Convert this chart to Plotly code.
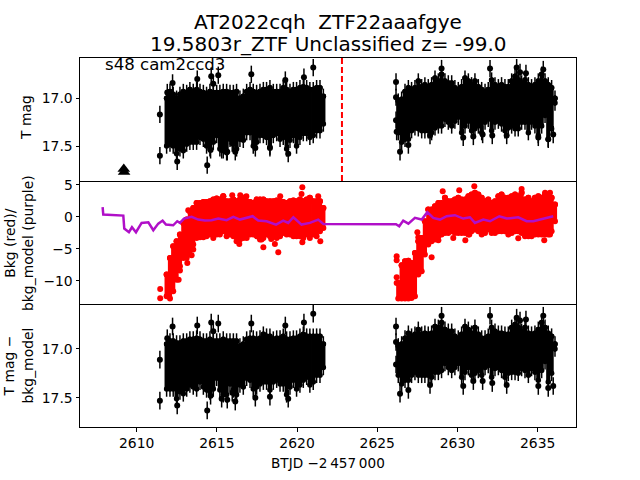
import numpy as np
import plotly.graph_objects as go
from plotly.subplots import make_subplots

FONT = "DejaVu Sans"

# Observation columns: epochs sampled along the two data segments (BTJD)
x_left = [2611.87,2612.08,2612.28,2612.49,2612.70,2612.91,2613.12,2613.32,2613.53,2613.74,2613.95,2614.16,
          2614.36,2614.57,2614.78,2614.99,2615.19,2615.40,2615.61,2615.82,2616.03,2616.23,2616.44,2616.65,
          2616.86,2617.07,2617.27,2617.48,2617.69,2617.90,2618.10,2618.31,2618.52,2618.73,2618.94,2619.14,
          2619.35,2619.56,2619.77,2619.97,2620.18,2620.39,2620.60,2620.80,2621.01,2621.22,2621.43,2621.64]
x_right = [2626.31,2626.52,2626.73,2626.94,2627.14,2627.35,2627.56,2627.77,2627.97,2628.18,2628.39,2628.60,
           2628.81,2629.01,2629.22,2629.43,2629.64,2629.84,2630.05,2630.26,2630.47,2630.68,2630.88,2631.09,
           2631.30,2631.51,2631.72,2631.92,2632.13,2632.34,2632.55,2632.75,2632.96,2633.17,2633.38,2633.59,
           2633.79,2634.00,2634.21,2634.42,2634.62,2634.83,2635.04,2635.25,2635.46,2635.66,2635.87,2636.08]

# Top panel: T mag, bright and faint edge of the points at each epoch
mag_hi_left = [17.00,16.93,16.96,17.00,16.96,16.93,16.94,16.91,16.93,16.91,16.93,16.94,16.96,16.93,16.94,16.94,
               16.94,16.93,16.93,16.94,16.94,16.93,17.00,16.98,16.93,16.91,16.93,16.94,16.93,16.91,16.91,16.89,
               16.93,16.93,16.93,16.89,16.91,16.93,16.91,16.91,16.89,16.88,16.89,16.91,16.91,16.89,16.89,16.98]
mag_lo_left = [17.50,17.48,17.50,17.58,17.53,17.55,17.48,17.46,17.46,17.46,17.41,17.43,17.50,17.53,17.46,17.39,
               17.53,17.55,17.57,17.43,17.48,17.53,17.43,17.44,17.36,17.36,17.50,17.46,17.39,17.39,17.41,17.51,
               17.39,17.37,17.43,17.41,17.53,17.44,17.39,17.50,17.41,17.37,17.37,17.41,17.39,17.34,17.34,17.27]
mag_hi_right = [17.03,17.01,16.93,16.89,16.91,16.89,16.82,16.88,16.86,16.88,16.86,16.79,16.82,16.75,16.82,16.84,
                16.84,16.89,16.91,16.88,16.79,16.82,16.86,16.82,16.88,16.91,16.93,16.91,16.81,16.86,16.88,16.86,
                16.88,16.88,16.82,16.77,16.81,16.84,16.81,16.86,16.88,16.86,16.82,16.75,16.82,16.86,16.89,17.00]
mag_lo_right = [17.36,17.46,17.43,17.43,17.34,17.31,17.32,17.34,17.34,17.34,17.36,17.31,17.29,17.29,17.22,17.25,
                17.29,17.24,17.20,17.36,17.29,17.24,17.34,17.32,17.29,17.36,17.25,17.22,17.34,17.25,17.24,17.27,
                17.34,17.31,17.29,17.32,17.32,17.25,17.25,17.36,17.25,17.29,17.39,17.29,17.18,17.43,17.32,17.05]

# Top panel: isolated points
out_x_left = [2611.45,2611.45,2612.24,2611.91,2612.53,2613.78,2614.40,2614.65,2615.09,2614.78,2617.15,2621.01,
              2619.27,2620.43,2614.61,2619.45,2617.40,2618.31,2616.15,2615.65,2615.30,2615.96]
out_mag_left = [17.17,17.60,16.84,16.94,17.66,16.80,17.70,16.77,16.76,16.85,16.75,16.68,
                16.81,16.78,17.54,17.58,17.52,17.52,17.56,17.56,17.54,17.47]
out_x_right = [2626.17,2626.17,2626.17,2626.42,2626.94,2626.21,2629.01,2632.03,2633.69,2635.35,2633.90,2634.27,
               2630.36,2632.17,2631.57,2635.97,2635.66,2635.04,2633.07,2630.99,2628.29]
out_mag_right = [16.83,16.99,17.23,17.56,17.49,17.35,16.69,16.69,16.68,16.70,16.73,16.74,
                 17.41,17.39,17.38,17.38,17.43,17.41,17.39,17.40,17.39]
limit_x = [2609.20, 2609.22]
limit_mag = [17.74, 17.77]

vline_x = [2622.80, 2622.80]
vline_mag = [16.58, 17.865]

# Middle panel: background, upper and lower edge of the points at each epoch
bkg_hi_left = [-9.01,-6.41,-4.59,-3.81,-2.76,-0.94,-0.42,0.88,1.40,2.18,2.18,2.34,2.34,2.44,2.70,2.86,
               2.70,3.23,2.44,2.44,2.70,2.44,2.70,2.97,2.44,2.34,2.18,2.70,2.70,2.70,2.44,2.44,
               2.44,2.55,2.44,2.34,2.18,2.44,2.55,2.44,2.70,2.44,2.70,2.97,2.44,2.44,2.44,1.40]
bkg_lo_left = [-12.40,-12.76,-11.60,-9.80,-7.71,-6.41,-6.41,-5.89,-4.33,-3.29,-3.18,-3.18,-3.02,-2.76,-3.29,-2.76,
               -2.76,-2.24,-3.02,-2.76,-3.02,-3.81,-3.55,-3.29,-3.29,-2.76,-2.76,-3.02,-3.55,-3.29,-2.76,-3.02,
               -3.02,-3.29,-3.02,-2.50,-2.76,-2.76,-3.02,-3.02,-3.02,-3.29,-2.76,-3.29,-2.76,-3.02,-2.24,-1.72]
bkg_hi_right = [-10.32,-7.56,-6.93,-6.83,-7.19,-5.63,-3.81,-3.29,-0.68,1.14,1.14,1.66,2.18,2.18,2.97,2.44,
                2.44,2.70,2.97,2.70,2.70,3.23,3.49,3.75,3.49,2.97,2.44,2.70,2.18,2.44,3.23,3.49,
                2.97,2.97,3.23,3.49,3.23,3.75,2.70,2.97,2.44,2.97,3.23,2.97,3.49,3.49,2.97,1.92]
bkg_lo_right = [-12.76,-12.76,-12.76,-12.76,-12.66,-12.40,-9.00,-8.49,-5.89,-4.33,-3.81,-3.55,-3.02,-2.76,-2.50,-2.50,
                -2.24,-2.50,-2.50,-2.50,-2.50,-2.76,-2.24,-1.98,-2.24,-2.76,-2.50,-1.98,-2.50,-2.50,-2.24,-2.24,
                -2.24,-2.76,-2.50,-2.24,-2.24,-2.50,-3.02,-3.02,-3.02,-2.76,-2.76,-2.76,-2.76,-2.76,-2.24,-0.68]
bkg_out_x = [2611.47,2611.47,2613.22,2615.40,2615.96,2616.46,2616.84,2618.95,2620.28,2620.33,2621.32,2616.40,
             2617.90,2618.83,2618.62,2618.39,2620.33,2621.45,2617.58,2617.79,2613.53,2613.43,2613.16,2612.62,2612.70,
             2626.21,2626.21,2626.21,2626.21,2629.08,2630.11,2631.05,2634.00,2635.46,2635.77,2627.50,2627.56,
             2628.39,2629.74,2630.49,2630.74,2628.81,2633.79,2635.41,2635.77]
bkg_out_val = [-11.25,-12.71,1.04,3.23,3.38,3.38,3.23,3.23,3.59,4.63,3.23,-4.22,
               -4.74,-5.52,-4.22,-3.44,-3.96,-3.81,-3.02,-3.55,-5.11,-6.00,-7.19,-9.80,-8.39,
               -6.15,-6.77,-9.43,-10.32,4.01,4.16,4.79,4.37,3.75,3.75,-2.40,-3.18,
               -6.31,-3.29,-3.65,-2.76,-3.65,-3.34,-3.65,-2.76]

# Middle panel: background model
model_x = [2607.88,2607.92,2609.17,2609.23,2609.52,2609.71,2609.96,2610.31,2610.73,2611.04,2611.35,2611.62,
           2611.83,2612.28,2612.53,2612.70,2612.95,2613.43,2613.84,2614.26,2614.67,2615.09,2615.61,2616.03,
           2616.44,2616.86,2617.23,2617.58,2618.10,2618.69,2619.14,2619.45,2619.77,2620.28,2620.80,2621.32,
           2621.64,2626.17,2626.37,2626.62,2626.94,2627.35,2627.77,2628.12,2628.49,2628.91,2629.33,2629.84,
           2630.36,2630.78,2631.09,2631.61,2632.03,2632.61,2633.07,2633.79,2634.31,2634.73,2635.35,2635.97]
model_val = [1.51,0.36,0.20,-1.83,-2.40,-1.62,-2.40,-0.94,-0.84,-2.09,-1.05,-0.58,
             -1.20,-1.31,-0.68,-0.94,-0.26,0.00,-0.42,-0.58,-0.52,-0.26,-0.52,0.00,
             -0.42,-0.16,0.10,-0.58,-0.68,-1.20,-0.58,-0.94,-0.06,-1.20,-0.94,-0.42,
             -1.10,-1.15,-1.46,-0.58,-1.05,-0.16,-0.42,0.73,-0.16,-0.42,0.10,0.26,
             -0.26,-0.06,-0.94,-0.42,-0.68,0.10,-0.26,-0.06,-0.68,-0.68,-0.26,0.10]

# Bottom panel: T mag minus background model
det_hi_left = [16.95,16.92,16.92,16.94,16.94,16.92,16.92,16.90,16.90,16.89,16.90,16.92,16.92,16.90,16.92,16.92,
               16.92,16.90,16.92,16.92,16.92,16.92,16.97,16.95,16.90,16.89,16.89,16.90,16.89,16.85,16.87,16.87,
               16.90,16.89,16.89,16.87,16.90,16.90,16.89,16.89,16.87,16.85,16.87,16.87,16.87,16.87,16.87,16.95]
det_lo_left = [17.41,17.41,17.41,17.51,17.44,17.46,17.41,17.37,17.39,17.41,17.34,17.39,17.42,17.44,17.41,17.30,
               17.42,17.47,17.47,17.36,17.42,17.47,17.37,17.39,17.30,17.32,17.41,17.39,17.36,17.34,17.34,17.42,
               17.34,17.32,17.36,17.36,17.47,17.39,17.32,17.41,17.37,17.32,17.29,17.37,17.34,17.27,17.27,17.19]
det_hi_right = [16.97,16.95,16.89,16.84,16.87,16.85,16.80,16.85,16.84,16.85,16.84,16.77,16.78,16.73,16.80,16.82,
                16.82,16.87,16.89,16.85,16.77,16.80,16.84,16.78,16.85,16.89,16.89,16.87,16.78,16.82,16.84,16.84,
                16.85,16.85,16.78,16.75,16.78,16.82,16.78,16.84,16.85,16.84,16.80,16.73,16.78,16.84,16.87,16.95]
det_lo_right = [17.27,17.36,17.32,17.32,17.27,17.24,17.27,17.27,17.27,17.27,17.29,17.24,17.24,17.22,17.15,17.19,
                17.22,17.19,17.15,17.29,17.24,17.19,17.27,17.25,17.22,17.27,17.19,17.17,17.29,17.20,17.19,17.22,
                17.29,17.25,17.24,17.24,17.25,17.20,17.22,17.27,17.20,17.24,17.32,17.22,17.13,17.34,17.25,17.00]
det_out_x_left = out_x_left
det_out_mag_left = [17.11,17.53,16.77,16.89,17.58,16.76,17.63,16.73,16.74,16.82,16.74,16.64,
                    16.76,16.73,17.48,17.51,17.50,17.49,17.54,17.52,17.51,17.45]
det_out_x_right = [2626.17,2626.17,2626.17,2626.42,2626.94,2629.01,2632.03,2633.69,2635.35,2633.90,2634.27,
                   2630.36,2632.17,2631.57,2635.97,2635.66,2635.04,2633.07,2630.99,2628.29]
det_out_mag_right = [16.77,16.93,17.16,17.46,17.42,16.66,16.66,16.68,16.66,16.71,16.70,
                     17.38,17.35,17.33,17.38,17.40,17.38,17.37,17.33,17.37]

x_ticks = [2610, 2615, 2620, 2625, 2630, 2635]
mag_ticks = [17.0, 17.5]
mag_tick_labels = ["17.0", "17.5"]
bkg_ticks = [5, 0, -5, -10]
bkg_tick_labels = ["5", "0", "\u22125", "\u221210"]

BLACK, RED, PURPLE = "#000000", "#ff0000", "#b00fc8"
MAG_ERR = 0.08

fig = make_subplots(rows=3, cols=1, shared_xaxes=True, vertical_spacing=0)


def columns(x, hi, lo, err, color, row, size=5.5, thick=4.2):
    hi, lo = np.array(hi), np.array(lo)
    # solid mass between the two edges
    fig.add_trace(go.Scatter(
        x=x, y=hi, mode="markers", marker=dict(color=color, size=size),
        error_y=dict(type="data", symmetric=False, array=lo - hi, arrayminus=[0] * len(x),
                     color=color, thickness=thick, width=0),
        showlegend=False), row=row, col=1)
    # edge points with their own thin error bars
    for edge in (hi, lo):
        fig.add_trace(go.Scatter(
            x=x, y=edge, mode="markers", marker=dict(color=color, size=size),
            error_y=dict(type="data", array=[err] * len(x), color=color, thickness=1.5, width=0),
            showlegend=False), row=row, col=1)


def singles(x, y, row):
    fig.add_trace(go.Scatter(
        x=x, y=y, mode="markers", marker=dict(color=BLACK, size=6),
        error_y=dict(type="data", array=[0.09] * len(x), color=BLACK, thickness=1.5, width=0),
        showlegend=False), row=row, col=1)


# top
columns(x_left, mag_hi_left, mag_lo_left, MAG_ERR, BLACK, 1)
columns(x_right, mag_hi_right, mag_lo_right, MAG_ERR, BLACK, 1)
singles(out_x_left, out_mag_left, 1)
singles(out_x_right, out_mag_right, 1)
fig.add_trace(go.Scatter(x=limit_x, y=limit_mag, mode="markers",
                         marker=dict(symbol="triangle-up", color=BLACK, size=11), showlegend=False), row=1, col=1)
fig.add_trace(go.Scatter(x=vline_x, y=vline_mag, mode="lines",
                         line=dict(color=RED, width=2, dash="6px,3px"), showlegend=False), row=1, col=1)

# middle
columns(x_left, bkg_hi_left, bkg_lo_left, 0, RED, 2, size=6)
columns(x_right, bkg_hi_right, bkg_lo_right, 0, RED, 2, size=6)
fig.add_trace(go.Scatter(x=bkg_out_x, y=bkg_out_val, mode="markers", marker=dict(color=RED, size=6),
                         showlegend=False), row=2, col=1)
fig.add_trace(go.Scatter(x=model_x, y=model_val, mode="lines", line=dict(color=PURPLE, width=2.5),
                         showlegend=False), row=2, col=1)

# bottom
columns(x_left, det_hi_left, det_lo_left, MAG_ERR, BLACK, 3)
columns(x_right, det_hi_right, det_lo_right, MAG_ERR, BLACK, 3)
singles(det_out_x_left, det_out_mag_left, 3)
singles(det_out_x_right, det_out_mag_right, 3)

axis_common = dict(showline=True, linecolor="black", linewidth=1, showgrid=False, zeroline=False,
                   ticks="outside", ticklen=3.5, tickwidth=0.8, tickcolor="black",
                   tickfont=dict(family=FONT, size=13.9, color="black"))
x_range = [2606.47, 2637.39]
fig.update_xaxes(range=x_range, tickvals=x_ticks, **axis_common)
fig.update_xaxes(ticks="", mirror=True, row=1, col=1)
fig.update_xaxes(ticks="", mirror=False, row=2, col=1)
fig.update_xaxes(ticktext=[str(t) for t in x_ticks], mirror=False, row=3, col=1)
fig.update_yaxes(range=[17.865, 16.58], tickvals=mag_ticks, ticktext=mag_tick_labels, mirror=True, row=1, col=1, **axis_common)
fig.update_yaxes(range=[-13.6, 5.6], tickvals=bkg_ticks, ticktext=bkg_tick_labels, mirror=True, row=2, col=1, **axis_common)
fig.update_yaxes(range=[17.8, 16.54], tickvals=mag_ticks, ticktext=mag_tick_labels, mirror=True, row=3, col=1, **axis_common)


def text(x, y, s, size=13.9, angle=0, anchor="center", va="middle"):
    fig.add_annotation(xref="paper", yref="paper", x=x, y=y, text=s, showarrow=False, textangle=angle,
                       xanchor=anchor, yanchor=va, align="center",
                       font=dict(family=FONT, size=size, color="black"))


text(0.5, 1.0979, "AT2022cqh  ZTF22aaafgye", size=20)
text(0.5, 1.0385, "19.5803r_ZTF Unclassified z= -99.0", size=20)
text(0.046, 0.983, "s48 cam2ccd3", size=16.6, anchor="left")
text(0.5, -0.0985, "BTJD \u22122\u2009457\u2009000", size=13.6)
text(-0.109, 0.84, "T mag", angle=-90)
text(-0.124, 0.5, "Bkg (red)/<br>bkg_model (purple)", angle=-90)
text(-0.124, 0.168, "T mag \u2212<br>bkg_model", angle=-90)

fig.update_layout(width=640, height=480, margin=dict(l=80, r=64, t=57.6, b=52.8, pad=0),
                  paper_bgcolor="white", plot_bgcolor="white", showlegend=False)

# Remove the page's default 8 px body margin so the figure sits at the window's corner
fig.write_html("out.html", post_script="document.body.style.margin='0';",
               config={"displayModeBar": False})
